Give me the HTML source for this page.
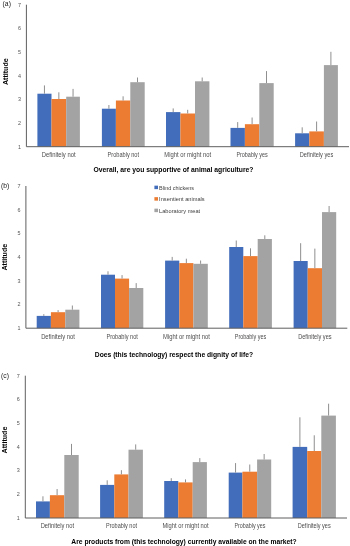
<!DOCTYPE html>
<html><head><meta charset="utf-8"><style>
html,body{margin:0;padding:0;background:#fff;}
body{width:350px;height:546px;overflow:hidden;position:relative;}
svg{position:absolute;left:0;top:0;will-change:transform;filter:blur(0.25px);}
text{font-family:"Liberation Sans",sans-serif;}
.t{font-size:6.4px;fill:#4d4d4d;}
.tk{font-size:5.4px;fill:#555;}
.ti{font-size:7.0px;font-weight:bold;fill:#000;}
.yl{font-size:7.1px;font-weight:bold;fill:#000;}
.pl{font-size:6.8px;fill:#222;}
.lg{font-size:6.0px;fill:#404040;}
</style></head><body>
<svg width="350" height="546" viewBox="0 0 350 546">

<text class="pl" x="2.6" y="6.1">(a)</text>
<text class="tk" x="19.40" y="148.55" text-anchor="middle">1</text>
<text class="tk" x="19.40" y="124.88" text-anchor="middle">2</text>
<text class="tk" x="19.40" y="101.22" text-anchor="middle">3</text>
<text class="tk" x="19.40" y="77.55" text-anchor="middle">4</text>
<text class="tk" x="19.40" y="53.88" text-anchor="middle">5</text>
<text class="tk" x="19.40" y="30.22" text-anchor="middle">6</text>
<text class="tk" x="19.40" y="6.55" text-anchor="middle">7</text>
<text class="yl" transform="translate(8.1,71.7) rotate(-90)" text-anchor="middle">Attitude</text>
<rect x="37.4" y="93.7" width="14.10" height="53.00" fill="#426DBA"/>
<rect x="51.5" y="99" width="14.70" height="47.70" fill="#EC7C32"/>
<rect x="66.2" y="96.7" width="13.70" height="50.00" fill="#A3A3A3"/>
<line x1="44.45" x2="44.45" y1="93.70" y2="85.40" stroke="#8f8f8f" stroke-width="1"/>
<line x1="58.85" x2="58.85" y1="99.00" y2="92.30" stroke="#8f8f8f" stroke-width="1"/>
<line x1="73.05" x2="73.05" y1="96.70" y2="88.90" stroke="#8f8f8f" stroke-width="1"/>
<text class="t" x="58.65" y="156.9" text-anchor="middle" textLength="33.80" lengthAdjust="spacingAndGlyphs">Definitely not</text>
<rect x="101.9" y="108.7" width="14.00" height="38.00" fill="#426DBA"/>
<rect x="115.9" y="100.5" width="14.40" height="46.20" fill="#EC7C32"/>
<rect x="130.3" y="82.2" width="14.40" height="64.50" fill="#A3A3A3"/>
<line x1="108.90" x2="108.90" y1="108.70" y2="105.00" stroke="#8f8f8f" stroke-width="1"/>
<line x1="123.10" x2="123.10" y1="100.50" y2="96.30" stroke="#8f8f8f" stroke-width="1"/>
<line x1="137.50" x2="137.50" y1="82.20" y2="77.50" stroke="#8f8f8f" stroke-width="1"/>
<text class="t" x="123.30" y="156.9" text-anchor="middle" textLength="31.50" lengthAdjust="spacingAndGlyphs">Probably not</text>
<rect x="166" y="112.1" width="14.40" height="34.60" fill="#426DBA"/>
<rect x="180.4" y="113.5" width="14.60" height="33.20" fill="#EC7C32"/>
<rect x="195" y="81.3" width="14.40" height="65.40" fill="#A3A3A3"/>
<line x1="173.20" x2="173.20" y1="112.10" y2="108.40" stroke="#8f8f8f" stroke-width="1"/>
<line x1="187.70" x2="187.70" y1="113.50" y2="109.80" stroke="#8f8f8f" stroke-width="1"/>
<line x1="202.20" x2="202.20" y1="81.30" y2="77.50" stroke="#8f8f8f" stroke-width="1"/>
<text class="t" x="187.70" y="156.9" text-anchor="middle" textLength="46.80" lengthAdjust="spacingAndGlyphs">Might or might not</text>
<rect x="230.5" y="127.9" width="14.40" height="18.80" fill="#426DBA"/>
<rect x="244.9" y="124.2" width="14.40" height="22.50" fill="#EC7C32"/>
<rect x="259.3" y="83.1" width="14.40" height="63.60" fill="#A3A3A3"/>
<line x1="237.70" x2="237.70" y1="127.90" y2="122.10" stroke="#8f8f8f" stroke-width="1"/>
<line x1="252.10" x2="252.10" y1="124.20" y2="117.50" stroke="#8f8f8f" stroke-width="1"/>
<line x1="266.50" x2="266.50" y1="83.10" y2="71.10" stroke="#8f8f8f" stroke-width="1"/>
<text class="t" x="252.10" y="156.9" text-anchor="middle" textLength="31.40" lengthAdjust="spacingAndGlyphs">Probably yes</text>
<rect x="295.1" y="133.3" width="14.20" height="13.40" fill="#426DBA"/>
<rect x="309.3" y="131.4" width="14.60" height="15.30" fill="#EC7C32"/>
<rect x="323.9" y="65.1" width="14.00" height="81.60" fill="#A3A3A3"/>
<line x1="302.20" x2="302.20" y1="133.30" y2="127.30" stroke="#8f8f8f" stroke-width="1"/>
<line x1="316.60" x2="316.60" y1="131.40" y2="121.50" stroke="#8f8f8f" stroke-width="1"/>
<line x1="330.90" x2="330.90" y1="65.10" y2="51.80" stroke="#8f8f8f" stroke-width="1"/>
<text class="t" x="316.50" y="156.9" text-anchor="middle" textLength="33.40" lengthAdjust="spacingAndGlyphs">Definitely yes</text>
<line x1="26.4" x2="26.4" y1="4.7" y2="146.7" stroke="#5f5f5f" stroke-width="1"/>
<line x1="26.4" x2="349.00" y1="146.7" y2="146.7" stroke="#5f5f5f" stroke-width="1"/>
<text class="ti" x="173.5" y="172.2" text-anchor="middle" textLength="160.0" lengthAdjust="spacingAndGlyphs">Overall, are you supportive of animal agriculture?</text>
<text class="pl" x="0.9" y="188.1">(b)</text>
<text class="tk" x="18.90" y="330.05" text-anchor="middle">1</text>
<text class="tk" x="18.90" y="306.35" text-anchor="middle">2</text>
<text class="tk" x="18.90" y="282.65" text-anchor="middle">3</text>
<text class="tk" x="18.90" y="258.95" text-anchor="middle">4</text>
<text class="tk" x="18.90" y="235.25" text-anchor="middle">5</text>
<text class="tk" x="18.90" y="211.55" text-anchor="middle">6</text>
<text class="tk" x="18.90" y="187.85" text-anchor="middle">7</text>
<text class="yl" transform="translate(7.0,257.2) rotate(-90)" text-anchor="middle">Attitude</text>
<rect x="36.7" y="315.9" width="14.20" height="12.30" fill="#426DBA"/>
<rect x="50.9" y="312.2" width="14.40" height="16.00" fill="#EC7C32"/>
<rect x="65.3" y="309.7" width="14.10" height="18.50" fill="#A3A3A3"/>
<line x1="43.80" x2="43.80" y1="315.90" y2="314.20" stroke="#8f8f8f" stroke-width="1"/>
<line x1="58.10" x2="58.10" y1="312.20" y2="310.10" stroke="#8f8f8f" stroke-width="1"/>
<line x1="72.35" x2="72.35" y1="309.70" y2="305.50" stroke="#8f8f8f" stroke-width="1"/>
<text class="t" x="58.05" y="338.6" text-anchor="middle" textLength="33.80" lengthAdjust="spacingAndGlyphs">Definitely not</text>
<rect x="101" y="274.7" width="14.00" height="53.50" fill="#426DBA"/>
<rect x="115" y="278.6" width="14.10" height="49.60" fill="#EC7C32"/>
<rect x="129.1" y="288" width="14.20" height="40.20" fill="#A3A3A3"/>
<line x1="108.00" x2="108.00" y1="274.70" y2="271.30" stroke="#8f8f8f" stroke-width="1"/>
<line x1="122.05" x2="122.05" y1="278.60" y2="275.10" stroke="#8f8f8f" stroke-width="1"/>
<line x1="136.20" x2="136.20" y1="288.00" y2="283.10" stroke="#8f8f8f" stroke-width="1"/>
<text class="t" x="122.15" y="338.6" text-anchor="middle" textLength="31.50" lengthAdjust="spacingAndGlyphs">Probably not</text>
<rect x="165.1" y="260.6" width="14.20" height="67.60" fill="#426DBA"/>
<rect x="179.3" y="263.1" width="14.10" height="65.10" fill="#EC7C32"/>
<rect x="193.4" y="263.8" width="14.40" height="64.40" fill="#A3A3A3"/>
<line x1="172.20" x2="172.20" y1="260.60" y2="256.90" stroke="#8f8f8f" stroke-width="1"/>
<line x1="186.35" x2="186.35" y1="263.10" y2="258.70" stroke="#8f8f8f" stroke-width="1"/>
<line x1="200.60" x2="200.60" y1="263.80" y2="260.50" stroke="#8f8f8f" stroke-width="1"/>
<text class="t" x="186.45" y="338.6" text-anchor="middle" textLength="46.80" lengthAdjust="spacingAndGlyphs">Might or might not</text>
<rect x="229.2" y="247" width="14.10" height="81.20" fill="#426DBA"/>
<rect x="243.3" y="256.1" width="14.40" height="72.10" fill="#EC7C32"/>
<rect x="257.7" y="239" width="14.20" height="89.20" fill="#A3A3A3"/>
<line x1="236.25" x2="236.25" y1="247.00" y2="240.50" stroke="#8f8f8f" stroke-width="1"/>
<line x1="250.50" x2="250.50" y1="256.10" y2="248.30" stroke="#8f8f8f" stroke-width="1"/>
<line x1="264.80" x2="264.80" y1="239.00" y2="235.30" stroke="#8f8f8f" stroke-width="1"/>
<text class="t" x="250.55" y="338.6" text-anchor="middle" textLength="31.40" lengthAdjust="spacingAndGlyphs">Probably yes</text>
<rect x="293.6" y="261" width="14.10" height="67.20" fill="#426DBA"/>
<rect x="307.7" y="268.2" width="14.30" height="60.00" fill="#EC7C32"/>
<rect x="322" y="212.1" width="14.20" height="116.10" fill="#A3A3A3"/>
<line x1="300.65" x2="300.65" y1="261.00" y2="243.20" stroke="#8f8f8f" stroke-width="1"/>
<line x1="314.85" x2="314.85" y1="268.20" y2="248.60" stroke="#8f8f8f" stroke-width="1"/>
<line x1="329.10" x2="329.10" y1="212.10" y2="206.00" stroke="#8f8f8f" stroke-width="1"/>
<text class="t" x="314.90" y="338.6" text-anchor="middle" textLength="33.40" lengthAdjust="spacingAndGlyphs">Definitely yes</text>
<line x1="25.9" x2="25.9" y1="186.0" y2="328.2" stroke="#5f5f5f" stroke-width="1"/>
<line x1="25.9" x2="347.30" y1="328.2" y2="328.2" stroke="#5f5f5f" stroke-width="1"/>
<text class="ti" x="173.9" y="356.9" text-anchor="middle" textLength="158.2" lengthAdjust="spacingAndGlyphs">Does (this technology) respect the dignity of life?</text>
<text class="pl" x="1.1" y="378.0">(c)</text>
<text class="tk" x="18.30" y="519.85" text-anchor="middle">1</text>
<text class="tk" x="18.30" y="496.13" text-anchor="middle">2</text>
<text class="tk" x="18.30" y="472.42" text-anchor="middle">3</text>
<text class="tk" x="18.30" y="448.70" text-anchor="middle">4</text>
<text class="tk" x="18.30" y="424.98" text-anchor="middle">5</text>
<text class="tk" x="18.30" y="401.27" text-anchor="middle">6</text>
<text class="tk" x="18.30" y="377.55" text-anchor="middle">7</text>
<text class="yl" transform="translate(6.9,440.0) rotate(-90)" text-anchor="middle">Attitude</text>
<rect x="36" y="501.4" width="13.90" height="16.60" fill="#426DBA"/>
<rect x="49.9" y="495.2" width="14.40" height="22.80" fill="#EC7C32"/>
<rect x="64.3" y="455" width="14.40" height="63.00" fill="#A3A3A3"/>
<line x1="42.95" x2="42.95" y1="501.40" y2="496.30" stroke="#8f8f8f" stroke-width="1"/>
<line x1="57.10" x2="57.10" y1="495.20" y2="489.00" stroke="#8f8f8f" stroke-width="1"/>
<line x1="71.50" x2="71.50" y1="455.00" y2="443.90" stroke="#8f8f8f" stroke-width="1"/>
<text class="t" x="57.35" y="527.9" text-anchor="middle" textLength="33.29" lengthAdjust="spacingAndGlyphs">Definitely not</text>
<rect x="100.1" y="484.9" width="14.20" height="33.10" fill="#426DBA"/>
<rect x="114.3" y="474.4" width="14.20" height="43.60" fill="#EC7C32"/>
<rect x="128.5" y="449.7" width="14.40" height="68.30" fill="#A3A3A3"/>
<line x1="107.20" x2="107.20" y1="484.90" y2="480.30" stroke="#8f8f8f" stroke-width="1"/>
<line x1="121.40" x2="121.40" y1="474.40" y2="470.20" stroke="#8f8f8f" stroke-width="1"/>
<line x1="135.70" x2="135.70" y1="449.70" y2="444.40" stroke="#8f8f8f" stroke-width="1"/>
<text class="t" x="121.50" y="527.9" text-anchor="middle" textLength="31.03" lengthAdjust="spacingAndGlyphs">Probably not</text>
<rect x="164.2" y="481" width="14.10" height="37.00" fill="#426DBA"/>
<rect x="178.3" y="482.4" width="14.40" height="35.60" fill="#EC7C32"/>
<rect x="192.7" y="462.1" width="14.20" height="55.90" fill="#A3A3A3"/>
<line x1="171.25" x2="171.25" y1="481.00" y2="478.20" stroke="#8f8f8f" stroke-width="1"/>
<line x1="185.50" x2="185.50" y1="482.40" y2="479.40" stroke="#8f8f8f" stroke-width="1"/>
<line x1="199.80" x2="199.80" y1="462.10" y2="458.10" stroke="#8f8f8f" stroke-width="1"/>
<text class="t" x="185.55" y="527.9" text-anchor="middle" textLength="46.10" lengthAdjust="spacingAndGlyphs">Might or might not</text>
<rect x="228.7" y="472.6" width="13.70" height="45.40" fill="#426DBA"/>
<rect x="242.4" y="471.7" width="14.70" height="46.30" fill="#EC7C32"/>
<rect x="257.1" y="459.5" width="14.10" height="58.50" fill="#A3A3A3"/>
<line x1="235.55" x2="235.55" y1="472.60" y2="463.10" stroke="#8f8f8f" stroke-width="1"/>
<line x1="249.75" x2="249.75" y1="471.70" y2="464.50" stroke="#8f8f8f" stroke-width="1"/>
<line x1="264.15" x2="264.15" y1="459.50" y2="454.00" stroke="#8f8f8f" stroke-width="1"/>
<text class="t" x="249.95" y="527.9" text-anchor="middle" textLength="30.93" lengthAdjust="spacingAndGlyphs">Probably yes</text>
<rect x="292.6" y="446.9" width="14.60" height="71.10" fill="#426DBA"/>
<rect x="307.2" y="451" width="14.10" height="67.00" fill="#EC7C32"/>
<rect x="321.3" y="415.6" width="14.60" height="102.40" fill="#A3A3A3"/>
<line x1="299.90" x2="299.90" y1="446.90" y2="417.30" stroke="#8f8f8f" stroke-width="1"/>
<line x1="314.25" x2="314.25" y1="451.00" y2="435.30" stroke="#8f8f8f" stroke-width="1"/>
<line x1="328.60" x2="328.60" y1="415.60" y2="403.70" stroke="#8f8f8f" stroke-width="1"/>
<text class="t" x="314.25" y="527.9" text-anchor="middle" textLength="32.90" lengthAdjust="spacingAndGlyphs">Definitely yes</text>
<line x1="25.3" x2="25.3" y1="375.7" y2="518.0" stroke="#5f5f5f" stroke-width="1"/>
<line x1="25.3" x2="347.00" y1="518.0" y2="518.0" stroke="#5f5f5f" stroke-width="1"/>
<text class="ti" x="184.0" y="544.1" text-anchor="middle" textLength="225.3" lengthAdjust="spacingAndGlyphs">Are products from (this technology) currently available on the market?</text>
<rect x="154.4" y="185.65" width="3.6" height="3.5" fill="#426DBA"/>
<text class="lg" x="159.1" y="189.50" textLength="34.9" lengthAdjust="spacingAndGlyphs">Blind chickens</text>
<rect x="154.4" y="197.15" width="3.6" height="3.5" fill="#EC7C32"/>
<text class="lg" x="159.1" y="201.00" textLength="45.6" lengthAdjust="spacingAndGlyphs">Insentient animals</text>
<rect x="154.4" y="208.65" width="3.6" height="3.5" fill="#A3A3A3"/>
<text class="lg" x="159.1" y="212.50" textLength="41.1" lengthAdjust="spacingAndGlyphs">Laboratory meat</text>
</svg></body></html>
